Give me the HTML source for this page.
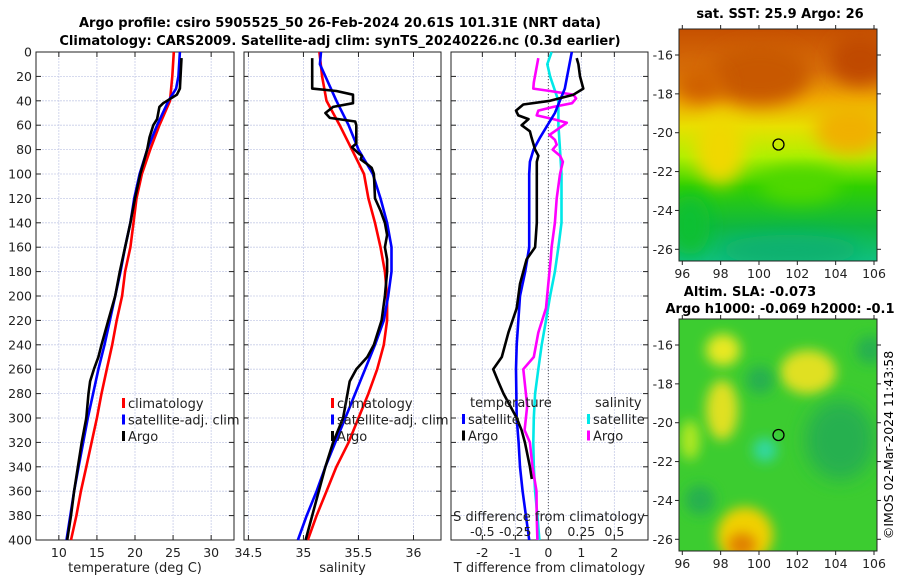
<!DOCTYPE html>
<html><head><meta charset="utf-8"><style>
body{margin:0;background:#fff;}
svg{display:block;font-family:"DejaVu Sans","Liberation Sans",sans-serif;}
</style></head><body>
<svg id="c" width="900" height="580" viewBox="0 0 900 580">
<defs>
<filter id="bl" x="-50%" y="-50%" width="200%" height="200%"><feGaussianBlur stdDeviation="9"/></filter>
<filter id="bl2" x="-50%" y="-50%" width="200%" height="200%"><feGaussianBlur stdDeviation="6"/></filter>
<clipPath id="cm1"><rect x="679" y="29" width="198" height="232"/></clipPath>
<clipPath id="cm2"><rect x="679" y="319" width="198" height="232"/></clipPath>
<linearGradient id="sst" x1="0" y1="0" x2="0" y2="1">
<stop offset="0" stop-color="#c65000"/><stop offset="0.18" stop-color="#d87008"/>
<stop offset="0.3" stop-color="#f0a800"/><stop offset="0.42" stop-color="#e8e000"/>
<stop offset="0.55" stop-color="#b0f000"/><stop offset="0.68" stop-color="#30d000"/>
<stop offset="0.85" stop-color="#10b840"/><stop offset="1" stop-color="#10c080"/>
</linearGradient>
</defs>
<g font-weight="bold" font-size="13" text-anchor="middle" fill="#000">
<text x="340" y="27">Argo profile: csiro 5905525_50 26-Feb-2024 20.61S 101.31E (NRT data)</text>
<text x="340" y="45">Climatology: CARS2009. Satellite-adj clim: synTS_20240226.nc (0.3d earlier)</text>
</g>
<g id="plots"></g>
<g>
<text x="780" y="18" font-size="13" font-weight="bold" text-anchor="middle">sat. SST: 25.9 Argo: 26</text>
<g clip-path="url(#cm1)">
<rect x="679" y="29" width="198" height="232" fill="url(#sst)"/>
<ellipse cx="760" cy="75" rx="50" ry="30" fill="#c85800" filter="url(#bl)"/>
<ellipse cx="700" cy="85" rx="25" ry="18" fill="#d06000" filter="url(#bl)"/>
<ellipse cx="720" cy="150" rx="25" ry="35" fill="#f0d800" filter="url(#bl)"/>
<ellipse cx="850" cy="130" rx="35" ry="25" fill="#f0b000" filter="url(#bl)"/>
<ellipse cx="860" cy="60" rx="30" ry="25" fill="#c04800" filter="url(#bl)"/>
<ellipse cx="690" cy="225" rx="20" ry="30" fill="#10c030" filter="url(#bl)"/>
<ellipse cx="800" cy="185" rx="40" ry="18" fill="#50d800" filter="url(#bl)"/>
<ellipse cx="790" cy="250" rx="70" ry="15" fill="#10b070" filter="url(#bl)"/>
</g>
<rect x="679" y="29" width="198" height="232" fill="none" stroke="#222" stroke-width="1"/>
<circle cx="778.5" cy="144.5" r="5.5" fill="none" stroke="#000" stroke-width="1.3"/>
<g id="m1ticks"></g>
</g>
<g>
<text x="750" y="296" font-size="13" font-weight="bold" text-anchor="middle">Altim. SLA: -0.073</text>
<text x="780" y="313" font-size="13" font-weight="bold" text-anchor="middle">Argo h1000: -0.069 h2000: -0.1</text>
<g clip-path="url(#cm2)">
<rect x="679" y="319" width="198" height="232" fill="#3ccc30"/>
<ellipse cx="723" cy="350" rx="17" ry="16" fill="#e8e820" filter="url(#bl2)"/>
<ellipse cx="808" cy="372" rx="28" ry="22" fill="#e0e020" filter="url(#bl2)"/>
<ellipse cx="722" cy="410" rx="16" ry="30" fill="#e0e020" filter="url(#bl2)"/>
<ellipse cx="745" cy="535" rx="28" ry="28" fill="#f0d000" filter="url(#bl2)"/>
<ellipse cx="742" cy="545" rx="14" ry="12" fill="#e08000" filter="url(#bl2)"/>
<ellipse cx="765" cy="450" rx="12" ry="12" fill="#30d8a0" filter="url(#bl2)"/>
<ellipse cx="840" cy="440" rx="35" ry="40" fill="#28b050" filter="url(#bl)"/>
<ellipse cx="700" cy="500" rx="15" ry="15" fill="#28b050" filter="url(#bl2)"/>
<ellipse cx="760" cy="380" rx="14" ry="14" fill="#28b050" filter="url(#bl2)"/>
<ellipse cx="870" cy="350" rx="14" ry="14" fill="#28b050" filter="url(#bl2)"/>
<ellipse cx="690" cy="440" rx="10" ry="20" fill="#b0e820" filter="url(#bl2)"/>
</g>
<rect x="679" y="319" width="198" height="232" fill="none" stroke="#222" stroke-width="1"/>
<circle cx="778.5" cy="435" r="5.5" fill="none" stroke="#000" stroke-width="1.3"/>
<g id="m2ticks"></g>
</g>
<text transform="translate(893,445) rotate(-90)" font-size="12.5" text-anchor="middle">©IMOS 02-Mar-2024 11:43:58</text>
</svg>
<script>
// ---- data ----
const tempClimDepth=[0,20,40,60,80,100,120,140,160,180,200,220,240,260,280,300,320,340,360,380,400];
const tempClim=[25.1,24.9,24.6,23.2,22.0,20.9,20.2,19.8,19.4,18.7,18.3,17.6,17.0,16.3,15.6,15.0,14.3,13.6,12.9,12.3,11.6];
const tempSatDepth=[0,20,30,40,60,80,100,120,140,160,180,200,220,240,260,280,300,320,340,360,380,400];
const tempSat=[25.9,25.7,25.4,24.4,22.9,21.6,20.6,19.9,19.4,18.7,18.1,17.4,16.7,16.0,15.2,14.5,13.8,13.2,12.6,12.0,11.5,11.0];
const tempArgoDepth=[5,30,35,42,45,55,60,70,80,100,120,140,160,180,200,220,240,250,260,270,280,300,320,340,360,380,400];
const tempArgo=[26.1,25.9,25.5,23.7,23.2,22.9,22.4,21.9,21.6,20.7,20.0,19.4,18.7,18.0,17.4,16.5,15.6,15.2,14.6,14.1,13.9,13.6,13.0,12.5,12.0,11.6,11.1];
const salClimDepth=[0,20,40,60,80,100,120,140,160,180,200,220,240,260,280,300,320,340,360,380,400];
const salClim=[35.145,35.17,35.21,35.33,35.44,35.55,35.59,35.65,35.70,35.74,35.76,35.76,35.73,35.67,35.59,35.50,35.41,35.30,35.21,35.12,35.04];
const salSatDepth=[0,10,20,40,60,80,100,120,140,160,180,200,220,240,260,280,300,320,340,360,380,400];
const salSat=[35.16,35.15,35.20,35.30,35.41,35.50,35.63,35.70,35.76,35.80,35.80,35.77,35.73,35.65,35.56,35.47,35.38,35.29,35.20,35.12,35.03,34.95];
const salArgoDepth=[5,30,32,35,42,45,50,54,57,60,75,78,83,85,88,92,95,100,120,130,140,150,160,170,180,200,220,240,250,260,270,280,300,320,340,360,380,400];
const salArgo=[35.08,35.08,35.30,35.45,35.45,35.27,35.20,35.24,35.47,35.48,35.48,35.44,35.50,35.53,35.52,35.58,35.62,35.64,35.65,35.70,35.74,35.76,35.74,35.76,35.76,35.74,35.71,35.64,35.58,35.48,35.42,35.40,35.36,35.27,35.20,35.14,35.08,35.02];
const dTSatDepth=[0,30,50,70,80,90,100,160,180,200,240,260,300,320,340,360,380,400];
const dTSat=[0.71,0.5,0.2,-0.25,-0.45,-0.56,-0.58,-0.58,-0.7,-0.86,-0.96,-0.98,-0.96,-0.9,-0.86,-0.78,-0.68,-0.58];
const dTArgoDepth=[5,10,20,30,35,40,43,48,52,55,60,65,70,80,85,90,100,140,160,170,190,210,230,250,260,270,280,300,310,320,340,350];
const dTArgo=[0.86,0.91,0.96,1.06,0.76,0.05,-0.76,-0.98,-0.91,-0.6,-0.81,-0.56,-0.51,-0.4,-0.3,-0.35,-0.35,-0.35,-0.4,-0.66,-0.86,-0.96,-1.21,-1.41,-1.67,-1.52,-1.36,-0.96,-0.81,-0.71,-0.56,-0.5];
const dSSatDepth=[0,10,20,40,60,80,100,140,160,180,200,220,240,260,280,300,320,340,360,380,400];
const dSSat=[0.025,-0.008,0.013,0.076,0.076,0.088,0.1,0.1,0.076,0.05,0.013,-0.018,-0.05,-0.076,-0.1,-0.11,-0.114,-0.11,-0.1,-0.083,-0.068];
const dSArgoDepth=[5,25,30,32,35,38,42,45,48,52,55,58,62,68,72,76,80,85,90,100,120,140,160,170,190,210,230,250,260,270,290,310,320,340,360,380,400];
const dSArgo=[-0.076,-0.11,-0.114,0.013,0.19,0.21,0.18,0.038,-0.076,-0.088,0.038,0.14,0.088,0.008,0.05,0.063,0.033,0.088,0.11,0.088,0.063,0.05,0.025,0.018,0,-0.018,-0.076,-0.11,-0.19,-0.18,-0.16,-0.18,-0.14,-0.12,-0.09,-0.088,-0.083];
const depthTicks=[0,20,40,60,80,100,120,140,160,180,200,220,240,260,280,300,320,340,360,380,400];
const tempTicks=[10,15,20,25,30];
const salTicks=[34.5,35,35.5,36];
const dTTicks=[-2,-1,0,1,2];
const dTTickLabels=["-2","-1","0","1","2"];
const dSTicks=[-0.5,-0.25,0,0.25,0.5];
const dSTickLabels=["-0.5","-0.25","0","0.25","0.5"];
const lonTicks=[96,98,100,102,104,106];
const latTicks=[-16,-18,-20,-22,-24,-26];

const NS="http://www.w3.org/2000/svg";
const root=document.getElementById('plots');
function mk(tag,attrs,parent){const e=document.createElementNS(NS,tag);for(const k in attrs)e.setAttribute(k,attrs[k]);(parent||root).appendChild(e);return e;}
const Y0=52,Y1=540;
const yS=d=>Y0+(d/400)*(Y1-Y0);

function panel(name,x0,x1,vmin,vmax,ticks,labels,showY,xlabel){
  const g=mk('g',{});
  
  
  const xS=v=>x0+(v-vmin)/(vmax-vmin)*(x1-x0);
  depthTicks.forEach(d=>{
    const l=mk('line',{x1:x0,x2:x1,y1:yS(d),y2:yS(d),stroke:'#c8cde8','stroke-width':0.8,'stroke-dasharray':'2,1'},g);
    
    
    mk('line',{x1:x0,x2:x0+5,y1:yS(d),y2:yS(d),stroke:'#222'},g);
    mk('line',{x1:x1-5,x2:x1,y1:yS(d),y2:yS(d),stroke:'#222'},g);
    if(showY){const t=mk('text',{x:x0-4,y:yS(d)+4.5,'font-size':12.5,'text-anchor':'end',fill:'#222'},g);t.textContent=d;
      
      }
  });
  ticks.forEach((v,i)=>{
    const l=mk('line',{x1:xS(v),x2:xS(v),y1:Y0,y2:Y1,stroke:'#c8cde8','stroke-width':0.8,'stroke-dasharray':'2,1'},g);
    
    
    mk('line',{x1:xS(v),x2:xS(v),y1:Y1,y2:Y1-5,stroke:'#222'},g);
    mk('line',{x1:xS(v),x2:xS(v),y1:Y0,y2:Y0+5,stroke:'#222'},g);
    const t=mk('text',{x:xS(v),y:Y1+17,'font-size':12.5,'text-anchor':'middle',fill:'#222'},g);t.textContent=labels[i];
    
    
  });
  const b=mk('rect',{x:x0,y:Y0,width:x1-x0,height:Y1-Y0,fill:'none',stroke:'#222','stroke-width':1},g);
  
  
  const xl=mk('text',{x:(x0+x1)/2,y:572,'font-size':13,'text-anchor':'middle',fill:'#222'},g);xl.textContent=xlabel;
  
  
  return {g,xS};
}
function series(p,name,depths,vals,color,scale){
  const pts=depths.map((d,i)=>p.xS(vals[i]*(scale||1)).toFixed(1)+','+yS(d).toFixed(1)).join(' ');
  const l=mk('polyline',{points:pts,fill:'none',stroke:color,'stroke-width':2.6,'stroke-linejoin':'round'},p.g);
  
  
}
function legend(p,x,y,items){
  items.forEach((it,i)=>{
    const yy=y+i*16.5;
    mk('rect',{x:x,y:yy-10,width:3,height:10,fill:it[1]},p.g);
    const t=mk('text',{x:x+6,y:yy,'font-size':13,fill:'#222'},p.g);t.textContent=it[0];
    
    
  });
}
const p1=panel('temperature-panel',36,234,7.0,33.0,tempTicks,tempTicks.map(String),true,'temperature (deg C)');
series(p1,'temp-climatology-line',tempClimDepth,tempClim,'#ff0000');
series(p1,'temp-satellite-line',tempSatDepth,tempSat,'#0000ff');
series(p1,'temp-argo-line',tempArgoDepth,tempArgo,'#000');
legend(p1,122,408,[['climatology','#ff0000'],['satellite-adj. clim','#0000ff'],['Argo','#000']]);

const p2=panel('salinity-panel',244,441,34.46,36.25,salTicks,salTicks.map(String),false,'salinity');
series(p2,'sal-climatology-line',salClimDepth,salClim,'#ff0000');
series(p2,'sal-satellite-line',salSatDepth,salSat,'#0000ff');
series(p2,'sal-argo-line',salArgoDepth,salArgo,'#000');
legend(p2,331,408,[['climatology','#ff0000'],['satellite-adj. clim','#0000ff'],['Argo','#000']]);

const p3=panel('difference-panel',451,648,-2.95,3.02,dTTicks,dTTickLabels,false,'T difference from climatology');
const z=mk('line',{x1:p3.xS(0),x2:p3.xS(0),y1:Y0,y2:Y1,stroke:'#555','stroke-width':1,'stroke-dasharray':'1,2'},p3.g);


series(p3,'dS-satellite-line',dSSatDepth,dSSat,'#00e8e8',4);
series(p3,'dS-argo-line',dSArgoDepth,dSArgo,'#ff00ff',4);
series(p3,'dT-satellite-line',dTSatDepth,dTSat,'#0000ff');
series(p3,'dT-argo-line',dTArgoDepth,dTArgo,'#000');
const th=mk('text',{x:470,y:407,'font-size':13,fill:'#222'},p3.g);th.textContent='temperature';


const sh=mk('text',{x:595,y:407,'font-size':13,fill:'#222'},p3.g);sh.textContent='salinity';


legend(p3,462,424,[['satellite','#0000ff'],['Argo','#000']]);
legend(p3,587,424,[['satellite','#00e8e8'],['Argo','#ff00ff']]);
const st=mk('text',{x:549,y:521,'font-size':13,'text-anchor':'middle',fill:'#222'},p3.g);st.textContent='S difference from climatology';


dSTicks.forEach((v,i)=>{
  const t=mk('text',{x:p3.xS(v*4),y:536,'font-size':12.5,'text-anchor':'middle',fill:'#222'},p3.g);t.textContent=dSTickLabels[i];
  
  
});

function mapTicks(id,yTop,yBot,lat16,lat26){
  const g=document.getElementById(id);
  const lx=v=>682.3+(v-96)*19.17;
  const ly=v=>lat16+(v+16)/(-10)*(lat26-lat16);
  lonTicks.forEach(v=>{
    mk('line',{x1:lx(v),x2:lx(v),y1:yBot,y2:yBot+4,stroke:'#222'},g);
    mk('line',{x1:lx(v),x2:lx(v),y1:yTop,y2:yTop-4,stroke:'#222'},g);
    const t=mk('text',{x:lx(v),y:yBot+17,'font-size':12.5,'text-anchor':'middle',fill:'#222'},g);t.textContent=v;
    
    
  });
  latTicks.forEach(v=>{
    mk('line',{x1:675,x2:679,y1:ly(v),y2:ly(v),stroke:'#222'},g);
    mk('line',{x1:877,x2:881,y1:ly(v),y2:ly(v),stroke:'#222'},g);
    const t=mk('text',{x:673,y:ly(v)+4.5,'font-size':12.5,'text-anchor':'end',fill:'#222'},g);t.textContent=v;
    
    
  });
}
mapTicks('m1ticks',29,261,55,249.3);
mapTicks('m2ticks',319,551,345,539.3);
</script>
</body></html>
